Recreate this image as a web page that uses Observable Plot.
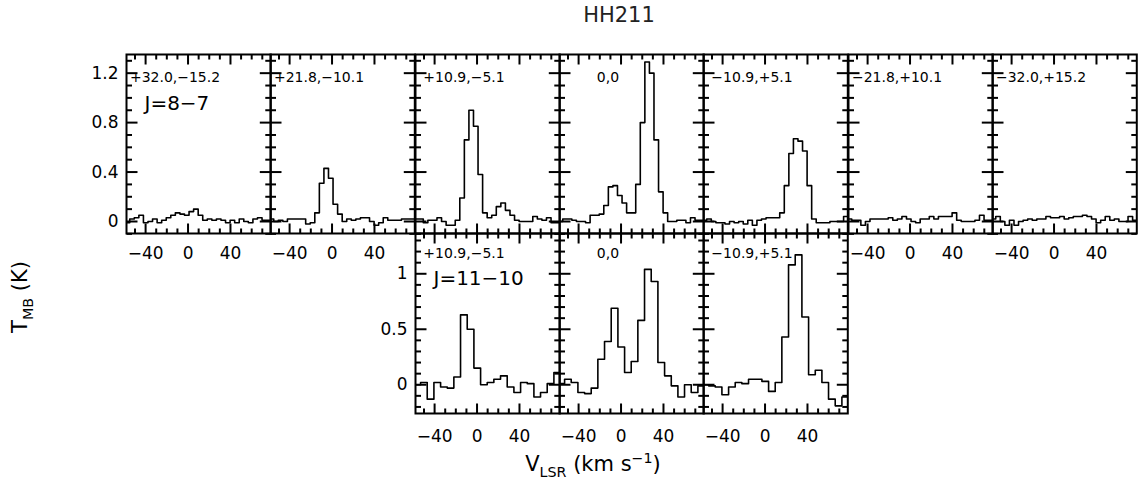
<!DOCTYPE html>
<html><head><meta charset="utf-8">
<script src="https://cdn.jsdelivr.net/npm/d3@7"></script>
<script src="https://cdn.jsdelivr.net/npm/@observablehq/plot@0.6"></script>
<style>
body{margin:0;background:#fff;}
#root{position:relative;width:1138px;height:483px;font-family:"DejaVu Sans",sans-serif;color:#000;overflow:hidden;}
.abs{position:absolute;white-space:nowrap;}
sub,sup{font-size:68%;}
</style></head><body><div id="root"></div>
<script>
// ---- data ----
const title = "HH211";
const vTop = [-61.4,-57.1,-52.8,-48.5,-44.2,-39.9,-35.6,-31.3,-27.0,-22.7,-18.4,-14.1,-9.8,-5.5,-1.2,3.1,7.4,11.7,16.0,20.3,24.6,28.9,33.2,37.5,41.8,46.1,50.4,54.7,59.0,63.3,67.6,71.9,76.2,80.5];
const vBot = [-62.6,-56.3,-50.1,-43.8,-37.5,-31.2,-25.0,-18.7,-12.4,-6.1,0.2,6.5,12.7,19.0,25.3,31.6,37.9,44.2,50.5,56.7,63.0,69.3,75.6,81.9];

const topLabels = ["+32.0,−15.2","+21.8,−10.1","+10.9,−5.1","0,0","−10.9,+5.1","−21.8,+10.1","−32.0,+15.2"];
const botLabels = ["+10.9,−5.1","0,0","−10.9,+5.1"];
const lineTop = "J=8−7";
const lineBot = "J=11−10";

const t1 = [-0.01,-0.01,0.02,0.03,0.05,-0.01,0.00,0.02,-0.01,0.01,0.03,0.05,0.07,0.06,0.05,0.08,0.10,0.05,0.01,0.02,0.01,0.02,0.01,-0.01,0.01,-0.01,0.02,0.00,-0.01,0.02,0.03,0.01,0.01,0.01];
const t2 = [0.02,0.02,0.00,0.01,0.00,0.02,0.02,0.02,0.02,-0.02,-0.01,0.07,0.31,0.43,0.35,0.14,0.06,0.00,0.02,0.01,0.02,0.03,0.03,0.00,-0.03,-0.01,0.03,0.01,0.01,0.01,0.02,0.02,0.02,0.02];
const t3 = [0.02,0.02,0.02,-0.01,0.01,0.01,0.03,0.00,-0.03,-0.03,0.01,0.19,0.66,0.90,0.77,0.38,0.07,0.03,0.05,0.12,0.15,0.09,0.05,0.01,0.00,0.00,0.00,0.04,0.02,0.01,0.03,-0.01,-0.01,-0.01];
const t4 = [0.00,0.00,0.02,0.02,0.01,0.00,0.00,-0.01,0.05,0.05,0.06,0.13,0.28,0.29,0.21,0.15,0.07,0.07,0.30,0.80,1.29,1.20,0.66,0.24,0.07,0.00,0.00,0.01,0.01,-0.01,0.03,0.01,0.01,0.02];
const t5 = [0.01,0.01,0.02,0.00,-0.01,-0.01,-0.02,0.00,-0.01,0.00,-0.02,0.01,-0.03,0.01,0.02,0.03,0.03,0.03,0.07,0.29,0.55,0.67,0.65,0.57,0.29,0.02,-0.01,-0.01,-0.01,0.00,0.00,0.00,0.04,0.04];
const t6 = [0.02,0.02,0.01,0.01,-0.03,0.00,0.02,0.02,0.02,0.02,0.03,0.01,0.02,0.04,0.02,0.00,-0.01,0.02,0.02,0.04,0.02,0.04,0.04,0.04,0.07,0.01,0.00,0.00,0.00,0.01,0.05,0.01,0.01,0.01];
const t7 = [0.02,0.02,0.04,0.00,-0.03,0.01,-0.03,0.00,0.01,0.02,0.01,0.02,0.02,0.04,0.03,0.03,0.04,0.02,0.03,0.04,0.04,0.05,0.04,0.02,-0.01,0.01,0.04,0.01,0.02,0.00,0.00,0.04,0.01,0.01];
const b3 = [0.00,0.00,0.02,-0.13,0.02,-0.02,-0.03,0.07,0.63,0.50,0.15,0.00,0.02,0.05,0.08,-0.02,-0.07,0.02,0.01,-0.11,-0.07,0.01,0.11,0.11];
const b4 = [0.01,0.01,0.05,0.02,-0.07,-0.08,-0.03,0.23,0.39,0.69,0.34,0.11,0.21,0.58,1.04,0.93,0.20,0.08,-0.01,-0.11,0.00,-0.07,-0.01,-0.01];
const b5 = [0.00,0.00,-0.01,-0.02,-0.09,-0.02,0.02,0.01,0.05,0.05,0.03,-0.06,0.02,0.43,1.08,1.17,0.61,0.09,0.13,0.02,-0.13,-0.19,-0.11,0.02];

const xMajor = [-40, 0, 40];
const xMinor = [-50,-30,-20,-10,10,20,30,50,60,70];
const yMajorTop = [0, 0.4, 0.8, 1.2];
const yMinorTop = [-0.1,0.1,0.2,0.3,0.5,0.6,0.7,0.9,1.0,1.1,1.3];
const yMajorBot = [0, 0.5, 1];
const yMinorBot = [-0.2,-0.1,0.1,0.2,0.3,0.4,0.6,0.7,0.8,0.9,1.1,1.2,1.3];
const xDomain = [-58, 78];
const yDomainTop = [-0.097, 1.351];
const yDomainBot = [-0.259, 1.363];

// ---- layout ----
const root = document.getElementById("root");
const PW = 144.3, ML = 70, MR = 10, MT = 10, MB = 34;
const fmt = d => String(d).replace("-", "−");

function panel(o) {
  const H = o.h;
  const [x0, x1] = xDomain, [y0, y1] = o.yDomain;
  const ky = (y1 - y0) / H;   // data units per pixel (y)
  const kx = (x1 - x0) / PW;  // data units per pixel (x)
  const rows = o.vel.map((v, i) => ({v, t: o.values[i]}));
  // inward tick segments, each a two-point line keyed by id
  const segs = [];
  let id = 0;
  const addX = (vals, len) => vals.forEach(v => {
    segs.push({x: v, y: y0, id}, {x: v, y: y0 + len * ky, id}); id++;
    segs.push({x: v, y: y1, id}, {x: v, y: y1 - len * ky, id}); id++;
  });
  const addY = (vals, len) => vals.forEach(v => {
    segs.push({x: x0, y: v, id}, {x: x0 + len * kx, y: v, id}); id++;
    segs.push({x: x1, y: v, id}, {x: x1 - len * kx, y: v, id}); id++;
  });
  addX(xMinor, 5); addX(xMajor, 10);
  addY(o.yMinor, 5.5); addY(o.yMajor, 11);
  const marks = [
    Plot.line(rows, {x: "v", y: "t", curve: "step", stroke: "#000", strokeWidth: 1.6, clip: true}),
    Plot.line(segs, {x: "x", y: "y", z: "id", stroke: "#000", strokeWidth: 2, strokeLinecap: "butt"}),
    Plot.frame({stroke: "#000", strokeWidth: 2}),
    Plot.text([o.label], {text: d => d, frameAnchor: "top-left", dx: 48.5, dy: o.labelDy, textAnchor: "middle", lineAnchor: "middle", fontSize: 14, fill: "#000"})
  ];
  if (o.showX) marks.push(Plot.axisX({ticks: xMajor, anchor: "bottom", tickSize: 0, tickPadding: o.xPad, fontSize: 17, label: null, tickFormat: fmt}));
  if (o.showY) marks.push(Plot.axisY({ticks: o.yMajor, anchor: "left", tickSize: 0, tickPadding: 8, fontSize: 17, label: null, tickFormat: fmt}));
  if (o.line2) marks.push(Plot.text([o.line2], {text: d => d, frameAnchor: "top-left", dx: 18, dy: o.line2Dy, textAnchor: "start", lineAnchor: "middle", fontSize: 20, letterSpacing: 1, fill: "#000"}));
  const svg = Plot.plot({
    width: PW + ML + MR, height: H + MT + MB,
    marginLeft: ML, marginRight: MR, marginTop: MT, marginBottom: MB,
    style: {background: "transparent", fontFamily: "'DejaVu Sans', sans-serif", color: "#000"},
    x: {domain: xDomain, axis: null},
    y: {domain: o.yDomain, axis: null},
    marks
  });
  svg.style.position = "absolute";
  svg.style.left = (o.left - ML) + "px";
  svg.style.top = (o.top - MT) + "px";
  svg.style.maxWidth = "none";
  root.appendChild(svg);
}

const topSeries = [t1, t2, t3, t4, t5, t6, t7];
topSeries.forEach((vals, i) => {
  panel({values: vals, vel: vTop, yDomain: yDomainTop, yMajor: yMajorTop, yMinor: yMinorTop,
    left: 126 + i * PW, top: 54, h: 179, label: topLabels[i], labelDy: 23,
    showX: !(i >= 2 && i <= 4), showY: i === 0, xPad: 13,
    line2: i === 0 ? lineTop : null, line2Dy: 49});
});
const botSeries = [b3, b4, b5];
botSeries.forEach((vals, j) => {
  panel({values: vals, vel: vBot, yDomain: yDomainBot, yMajor: yMajorBot, yMinor: yMinorBot,
    left: 126 + (j + 2) * PW, top: 233, h: 180, label: botLabels[j], labelDy: 20,
    showX: true, showY: j === 0, xPad: 16,
    line2: j === 0 ? lineBot : null, line2Dy: 45});
});

// ---- titles ----
function addText(html, css) {
  const d = document.createElement("div");
  d.className = "abs";
  d.innerHTML = html;
  Object.assign(d.style, css);
  root.appendChild(d);
}
addText(title, {left: "619px", top: "15px", transform: "translate(-50%,-50%)", fontSize: "21px", color: "#222"});
addText("V<sub>LSR</sub> (km s<sup>−1</sup>)", {left: "593px", top: "465px", transform: "translate(-50%,-50%)", fontSize: "21px"});
addText("T<sub>MB</sub> (K)", {left: "22px", top: "297px", transform: "translate(-50%,-50%) rotate(-90deg)", fontSize: "21px"});
</script>
</body></html>
